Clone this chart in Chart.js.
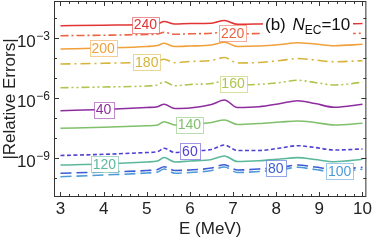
<!DOCTYPE html>
<html>
<head>
<meta charset="utf-8">
<script src="https://cdn.jsdelivr.net/npm/chart.js@4/dist/chart.umd.min.js"></script>
<style>
  html, body { margin: 0; padding: 0; background: #fff; }
  canvas { display: block; }
</style>
</head>
<body>
<canvas id="errChart" width="374" height="240"></canvas>
<script>
// energy grid (MeV)
const energy = [3, 4, 5, 5.25, 5.4, 5.65, 6, 6.5, 6.8, 7.1, 7.6, 8.1, 8.5, 8.9, 9.35, 10]

// |relative errors|, one array per curve
const err240 = [4.12e-3, 4.37e-3, 4.73e-3, 5.13e-3, 6.68e-3, 5.01e-3, 5.31e-3, 5.50e-3, 7.50e-3, 4.84e-3, 5.01e-3, 5.31e-3, 5.75e-3, 5.43e-3, 4.84e-3, 5.31e-3]
const err220 = [1.30e-3, 1.38e-3, 1.50e-3, 1.58e-3, 1.93e-3, 1.53e-3, 1.62e-3, 1.72e-3, 2.00e-3, 1.62e-3, 1.68e-3, 1.78e-3, 1.88e-3, 1.78e-3, 1.62e-3, 1.72e-3]
const err200 = [2.82e-4, 3.16e-4, 3.76e-4, 4.22e-4, 5.43e-4, 3.76e-4, 3.98e-4, 4.47e-4, 6.10e-4, 3.76e-4, 3.98e-4, 4.73e-4, 5.82e-4, 5.01e-4, 4.12e-4, 4.84e-4]
const err180 = [5.01e-5, 5.43e-5, 6.31e-5, 7.08e-5, 8.61e-5, 5.82e-5, 6.68e-5, 7.50e-5, 1.06e-4, 5.62e-5, 5.96e-5, 7.50e-5, 9.44e-5, 7.94e-5, 6.53e-5, 7.33e-5]
const err160 = [3.27e-6, 3.55e-6, 3.98e-6, 4.47e-6, 6.53e-6, 4.12e-6, 4.73e-6, 5.31e-6, 7.08e-6, 4.57e-6, 4.84e-6, 5.96e-6, 7.67e-6, 5.96e-6, 4.47e-6, 6.10e-6]
const err40 = [2.32e-7, 2.66e-7, 3.35e-7, 3.67e-7, 4.84e-7, 2.99e-7, 3.16e-7, 4.73e-7, 7.94e-7, 3.35e-7, 3.67e-7, 5.31e-7, 7.33e-7, 5.31e-7, 3.43e-7, 4.84e-7]
const err140 = [3.05e-8, 3.43e-8, 4.07e-8, 4.47e-8, 6.53e-8, 4.47e-8, 4.73e-8, 5.96e-8, 7.94e-8, 4.73e-8, 5.31e-8, 6.31e-8, 7.08e-8, 5.96e-8, 4.47e-8, 5.43e-8]
const err60 = [1.33e-9, 1.53e-9, 1.88e-9, 2.07e-9, 3.05e-9, 1.88e-9, 2.24e-9, 2.66e-9, 4.47e-9, 2.37e-9, 2.37e-9, 3.16e-9, 4.12e-9, 3.35e-9, 2.51e-9, 2.82e-9]
const err120 = [4.47e-10, 5.01e-10, 6.31e-10, 7.08e-10, 1.06e-9, 6.31e-10, 7.08e-10, 8.41e-10, 1.26e-9, 6.68e-10, 7.33e-10, 8.91e-10, 1.04e-9, 8.41e-10, 6.53e-10, 8.61e-10]
const err80 = [1.72e-10, 2.00e-10, 2.37e-10, 2.66e-10, 3.67e-10, 2.37e-10, 2.51e-10, 3.16e-10, 4.62e-10, 2.51e-10, 2.82e-10, 3.35e-10, 4.47e-10, 3.55e-10, 2.72e-10, 3.43e-10]
const err100 = [1.16e-10, 1.41e-10, 1.78e-10, 2.00e-10, 2.82e-10, 1.74e-10, 1.88e-10, 2.37e-10, 3.55e-10, 1.88e-10, 2.11e-10, 2.57e-10, 3.43e-10, 2.66e-10, 2.07e-10, 2.72e-10]

const xTicks = [3, 4, 5, 6, 7, 8, 9, 10]
const yTickExps = [-9, -6, -3]

// curve styles + where each callout sits (E in MeV)
const curves = [
    { name: "240", data: err240, color: "#e23434", dash: [], at: 4.97 },
    { name: "220", data: err220, color: "#ec6442", dash: [8, 3, 2, 3], at: 6.99 },
    { name: "200", data: err200, color: "#f0a03c", dash: [], at: 3.99 },
    { name: "180", data: err180, color: "#d6b43a", dash: [10, 4, 2, 4], at: 5.0 },
    { name: "160", data: err160, color: "#aec64e", dash: [8, 3, 2, 3, 2, 3], at: 7.0 },
    { name: "40", data: err40, color: "#8e2e9e", dash: [], at: 4.0 },
    { name: "140", data: err140, color: "#80c06c", dash: [], at: 5.99 },
    { name: "60", data: err60, color: "#5040d2", dash: [4, 2.5], at: 6.0 },
    { name: "120", data: err120, color: "#5cb89c", dash: [], at: 4.02 },
    { name: "80", data: err80, color: "#3c5cd6", dash: [11, 5], at: 7.99 },
    { name: "100", data: err100, color: "#4e9ad6", dash: [11, 5], at: 9.47 },
]

const FONT = '"Liberation Sans", Arial, sans-serif'

function valueAt(data, e) {
    for (let i = 0; i < energy.length - 1; i++) {
        if (e >= energy[i] && e <= energy[i + 1]) {
            const t = (e - energy[i]) / (energy[i + 1] - energy[i])
            return Math.pow(10, Math.log10(data[i]) * (1 - t) + Math.log10(data[i + 1]) * t)
        }
    }
    return data[data.length - 1]
}

function withAlpha(hex, a) {
    const n = parseInt(hex.slice(1), 16)
    return `rgba(${n >> 16}, ${(n >> 8) & 255}, ${n & 255}, ${a})`
}

const overlay = {
    id: "overlay",
    afterDatasetsDraw(chart) {
        const { ctx, scales: { x, y } } = chart
        ctx.save()

        // callout boxes sitting on the curves
        ctx.font = "14px " + FONT
        ctx.textAlign = "center"
        ctx.textBaseline = "middle"
        curves.forEach(c => {
            const px = x.getPixelForValue(c.at)
            const py = y.getPixelForValue(valueAt(c.data, c.at))
            const w = Math.round(ctx.measureText(c.name).width + 4)
            const h = 16
            const bx = Math.round(px - w / 2) + 0.5
            const by = Math.round(py - h / 2) + 0.5
            ctx.fillStyle = "#fff"
            ctx.fillRect(bx, by, w, h)
            ctx.strokeStyle = withAlpha(c.color, 0.55)
            ctx.lineWidth = 1
            ctx.strokeRect(bx, by, w, h)
            ctx.fillStyle = c.color
            ctx.fillText(c.name, px, py + 1)
        })

        // panel tag "(b) N_EC=10"
        ctx.fillStyle = "#fff"
        ctx.fillRect(263, 14, 90, 24)
        ctx.fillStyle = "#111"
        ctx.textAlign = "left"
        ctx.textBaseline = "alphabetic"
        let tx = 265
        const base = 30
        ctx.font = "17px " + FONT
        ctx.fillText("(b) ", tx, base)
        tx += ctx.measureText("(b) ").width + 2
        ctx.font = "italic 17px " + FONT
        ctx.fillText("N", tx, base)
        tx += ctx.measureText("N").width
        ctx.font = "12px " + FONT
        ctx.fillText("EC", tx, base + 4)
        tx += ctx.measureText("EC").width
        ctx.font = "17px " + FONT
        ctx.fillText("=10", tx, base)

        ctx.restore()
    },
    afterDraw(chart) {
        const { ctx, chartArea: a, scales: { x, y } } = chart
        ctx.save()
        ctx.strokeStyle = "#333"
        ctx.lineWidth = 1

        // frame
        ctx.strokeRect(a.left + 0.5, a.top + 0.5, a.right - a.left - 1, a.bottom - a.top - 1)

        // inward ticks, x every 0.2, major at integers
        ctx.beginPath()
        for (let i = 15; i <= 50; i++) {
            const v = i / 5
            const px = Math.round(x.getPixelForValue(v)) + 0.5
            const len = i % 5 === 0 ? 5 : 3
            ctx.moveTo(px, a.bottom); ctx.lineTo(px, a.bottom - len)
            ctx.moveTo(px, a.top); ctx.lineTo(px, a.top + len)
        }
        // y every decade, major at 1e-9, 1e-6, 1e-3
        for (let e = -10; e <= -2; e++) {
            const py = Math.round(y.getPixelForValue(Math.pow(10, e))) + 0.5
            const len = yTickExps.includes(e) ? 5 : 3
            ctx.moveTo(a.left, py); ctx.lineTo(a.left + len, py)
            ctx.moveTo(a.right, py); ctx.lineTo(a.right - len, py)
        }
        ctx.stroke()

        // y tick labels with superscript exponents
        ctx.fillStyle = "#222"
        ctx.textAlign = "right"
        ctx.textBaseline = "alphabetic"
        yTickExps.forEach(e => {
            const py = y.getPixelForValue(Math.pow(10, e))
            const sup = "\u2212" + Math.abs(e)
            ctx.font = "12px " + FONT
            const sw = ctx.measureText(sup).width
            ctx.fillText(sup, 50, py + 2)
            ctx.font = "17px " + FONT
            ctx.fillText("10", 50 - sw - 0.5, py + 9)
        })
        ctx.restore()
    }
}

const ctx = document.getElementById("errChart")

new Chart(ctx, {
    type: "line",
    data: {
        datasets: curves.map(c => ({
            label: c.name,
            data: energy.map((e, i) => ({ x: e, y: c.data[i] })),
            borderColor: c.color,
            borderDash: c.dash,
            borderWidth: 1.6,
            pointRadius: 0,
            cubicInterpolationMode: "monotone",
            fill: false
        }))
    },
    options: {
        responsive: false,
        animation: false,
        devicePixelRatio: 1,
        layout: { padding: { top: 1, right: 5, left: 0, bottom: 0 } },
        plugins: { legend: { display: false }, tooltip: { enabled: false } },
        scales: {
            x: {
                type: "linear",
                bounds: "data",
                min: 2.85,
                max: 10.09,
                grid: { display: false, drawTicks: false },
                border: { display: false },
                afterBuildTicks: s => { s.ticks = xTicks.map(v => ({ value: v })) },
                afterFit: s => { s.height = 43 },
                ticks: {
                    color: "#222",
                    padding: 2,
                    maxRotation: 0,
                    autoSkip: false,
                    font: { family: FONT, size: 17 },
                    callback: v => String(v)
                },
                title: {
                    display: true,
                    text: "E (MeV)",
                    color: "#222",
                    padding: 0,
                    font: { family: FONT, size: 17 }
                }
            },
            y: {
                type: "logarithmic",
                bounds: "data",
                min: 1.122e-11,
                max: 7.079e-2,
                grid: { display: false, drawTicks: false },
                border: { display: false },
                ticks: { display: false },
                afterFit: s => { s.width = 54 },
                title: {
                    display: true,
                    text: "|Relative Errors|",
                    color: "#222",
                    padding: 0,
                    font: { family: FONT, size: 17 }
                }
            }
        }
    },
    plugins: [overlay]
})
</script>
</body>
</html>
